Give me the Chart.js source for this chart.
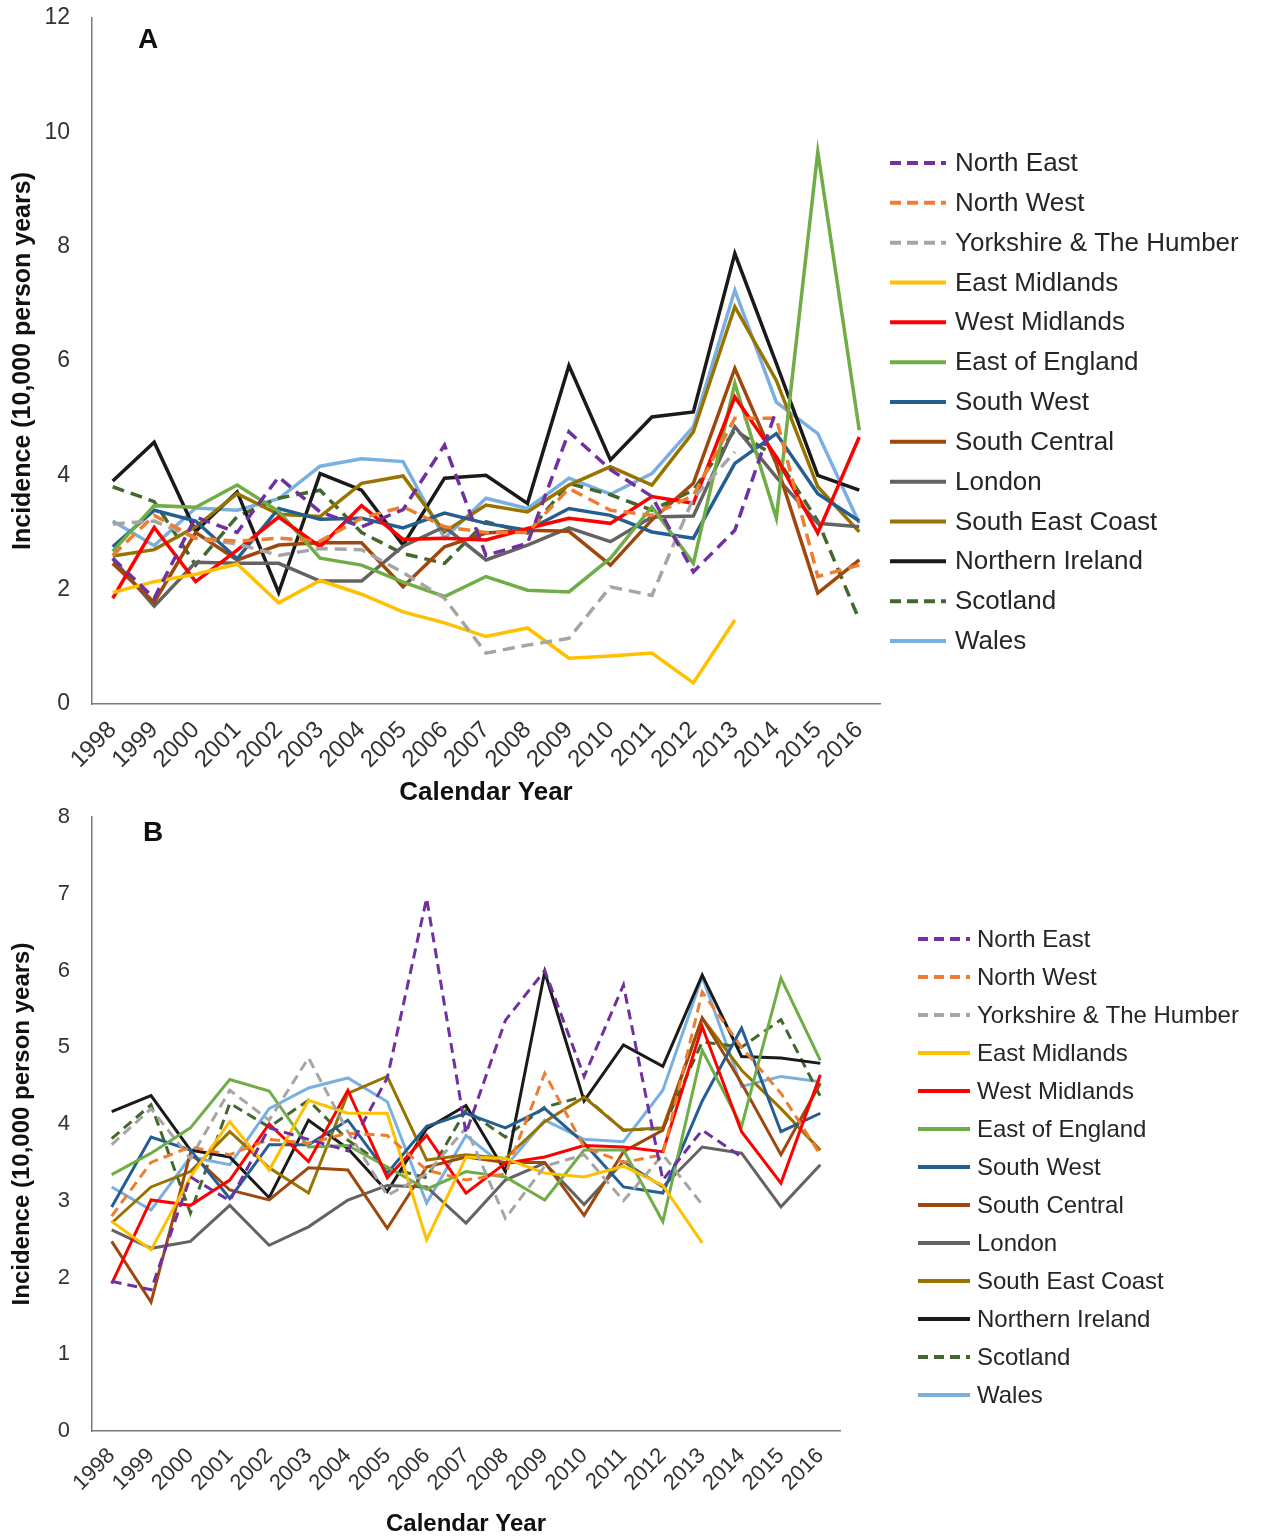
<!DOCTYPE html>
<html>
<head>
<meta charset="utf-8">
<title>Incidence by region, 1998–2016</title>
<script src="https://cdn.jsdelivr.net/npm/chart.js@4.4.1/dist/chart.umd.min.js"></script>
<style>
  html, body { margin: 0; padding: 0; background: #ffffff; }
  .panel { position: absolute; left: 0; }
  #panelA { top: 0; width: 1262px; height: 805px; }
  #panelB { top: 800px; width: 1262px; height: 737px; }
</style>
</head>
<body>
<div class="panel" id="panelA"><canvas id="chartA" width="1262" height="805"></canvas></div>
<div class="panel" id="panelB"><canvas id="chartB" width="1262" height="737"></canvas></div>
<script>
// Calendar years on the x axis
const years = ['1998','1999','2000','2001','2002','2003','2004','2005','2006','2007',
               '2008','2009','2010','2011','2012','2013','2014','2015','2016'];

const regions = ['North East','North West','Yorkshire & The Humber','East Midlands','West Midlands',
                 'East of England','South West','South Central','London','South East Coast',
                 'Northern Ireland','Scotland','Wales'];

// Panel A: incidence per 10,000 person years
const northEastA      = [2.55,1.85,3.27,3.00,3.97,3.36,3.10,3.40,4.53,2.60,2.81,4.76,4.10,3.63,2.31,3.04,5.14,null,null];
const northWestA      = [2.60,3.30,2.90,2.85,2.90,2.85,3.25,3.45,3.10,3.00,3.00,3.77,3.39,3.30,3.65,5.00,5.00,2.23,2.43];
const yorkshireA      = [3.15,3.20,2.90,2.80,2.60,2.72,2.70,2.30,1.85,0.89,1.03,1.15,2.05,1.90,3.60,4.41,null,null,null];
const eastMidlandsA   = [1.95,2.14,2.27,2.45,1.77,2.16,1.92,1.61,1.42,1.18,1.33,0.80,0.84,0.89,0.37,1.47,null,null,null];
const westMidlandsA   = [1.85,3.09,2.14,2.69,3.27,2.75,3.47,2.88,2.90,2.87,3.07,3.25,3.16,3.63,3.51,5.37,4.32,2.99,4.67];
const eastEnglandA    = [2.67,3.47,3.44,3.83,3.37,2.55,2.43,2.13,1.88,2.23,1.99,1.96,2.55,3.45,2.46,5.61,3.25,9.66,4.79];
const southWestA      = [2.75,3.39,3.20,2.54,3.42,3.23,3.25,3.08,3.34,3.16,3.04,3.42,3.30,3.01,2.90,4.21,4.73,3.68,3.20];
const southCentralA   = [2.46,1.78,3.00,2.52,2.78,2.82,2.82,2.05,2.75,2.99,3.04,3.02,2.43,3.22,3.86,5.87,4.20,1.94,2.52];
const londonA         = [2.54,1.71,2.48,2.46,2.46,2.15,2.15,2.76,3.10,2.52,2.78,3.08,2.84,3.27,3.29,4.85,3.97,3.16,3.10];
const southEastCoastA = [2.59,2.70,3.10,3.68,3.32,3.28,3.86,3.99,3.01,3.48,3.36,3.83,4.15,3.83,4.76,6.95,5.66,3.80,3.01];
const northIrelandA   = [3.90,4.58,3.02,3.71,1.95,4.03,3.74,2.78,3.95,4.00,3.51,5.92,4.27,5.02,5.11,7.88,5.96,4.00,3.74];
const scotlandA       = [3.80,3.54,2.43,3.28,3.60,3.74,3.00,2.63,2.46,3.19,2.99,3.86,3.66,3.39,3.74,4.79,4.32,3.20,1.47];
const walesA          = [3.20,2.77,3.43,3.39,3.59,4.16,4.29,4.24,2.90,3.60,3.42,3.95,3.67,4.03,4.85,7.24,5.28,4.73,3.16];

// Panel B: incidence per 10,000 person years
const northEastB      = [1.95,1.84,3.31,3.00,3.95,3.80,3.65,4.60,6.94,3.88,5.35,6.00,4.62,5.81,3.27,3.92,3.57,null,null];
const northWestB      = [2.80,3.50,3.70,3.60,3.80,3.75,3.88,3.85,3.40,3.27,3.35,4.66,3.70,3.50,3.60,5.72,5.00,4.40,3.60];
const yorkshireB      = [3.73,4.20,3.55,4.44,4.05,4.86,3.90,3.07,3.35,3.95,2.77,3.45,3.60,3.00,3.60,2.95,null,null,null];
const eastMidlandsB   = [2.73,2.36,3.31,4.03,3.40,4.31,4.14,4.14,2.49,3.57,3.55,3.36,3.31,3.45,3.20,2.45,null,null,null];
const westMidlandsB   = [1.92,3.01,2.94,3.27,4.00,3.51,4.44,3.30,3.85,3.10,3.49,3.57,3.72,3.70,3.64,5.27,3.90,3.23,4.64];
const eastEnglandB    = [3.34,3.62,3.95,4.58,4.43,3.70,3.72,3.44,3.15,3.38,3.31,3.01,3.66,3.66,2.73,4.96,3.97,5.90,4.83];
const southWestB      = [2.92,3.83,3.66,3.03,3.73,3.73,4.05,3.36,3.97,4.14,3.95,4.20,3.75,3.18,3.10,4.30,5.25,3.90,4.14];
const southCentralB   = [2.47,1.68,3.62,3.14,3.01,3.43,3.40,2.64,3.44,3.57,3.50,3.50,2.81,3.64,3.92,5.38,4.53,3.60,4.53];
const londonB         = [2.62,2.38,2.47,2.94,2.42,2.66,3.01,3.20,3.18,2.71,3.27,3.49,2.95,3.51,3.18,3.70,3.62,2.92,3.47];
const southEastCoastB = [2.71,3.18,3.38,3.90,3.43,3.10,4.40,4.62,3.53,3.60,3.55,4.03,4.35,3.92,3.95,5.38,4.70,4.20,3.66];
const northIrelandB   = [4.16,4.37,3.66,3.57,3.04,4.05,3.68,3.12,3.94,4.24,3.38,5.98,4.30,5.03,4.75,5.94,4.88,4.86,4.79];
const scotlandB       = [3.81,4.25,2.84,4.27,3.96,4.31,3.79,3.43,3.30,4.18,3.83,4.22,4.36,3.92,3.94,5.07,5.00,5.36,4.36];
const walesB          = [3.18,2.88,3.57,3.47,4.20,4.47,4.60,4.29,2.97,3.85,3.44,4.05,3.80,3.77,4.44,5.92,4.49,4.62,4.55];

const yTicksA = [0, 2, 4, 6, 8, 10, 12];
const yTicksB = [0, 1, 2, 3, 4, 5, 6, 7, 8];

// Line colour and dash flag for each region, in legend order
const regionColors = ['#7030A0','#ED7D31','#A5A5A5','#FFC000','#FF0000','#70AD47','#255E91',
                      '#9E480E','#636363','#997300','#1A1A1A','#43682B','#7AB0E0'];
const regionDashed = [true, true, true, false, false, false, false, false, false, false, false, true, false];

const seriesA = [northEastA, northWestA, yorkshireA, eastMidlandsA, westMidlandsA, eastEnglandA,
                 southWestA, southCentralA, londonA, southEastCoastA, northIrelandA, scotlandA, walesA];
const seriesB = [northEastB, northWestB, yorkshireB, eastMidlandsB, westMidlandsB, eastEnglandB,
                 southWestB, southCentralB, londonB, southEastCoastB, northIrelandB, scotlandB, walesB];

const FONT = "'Liberation Sans', Arial, Helvetica, sans-serif";
Chart.defaults.font.family = FONT;

// Draws the legend lines/labels at a fixed place and the panel letter
const sideLegend = {
  id: 'sideLegend',
  afterDraw(chart, args, o) {
    const ctx = chart.ctx;
    ctx.save();
    chart.data.datasets.forEach((ds, i) => {
      const y = o.top + i * o.step;
      ctx.strokeStyle = ds.borderColor;
      ctx.lineWidth = o.lineWidth;
      ctx.lineCap = 'butt';
      ctx.setLineDash(ds.borderDash && ds.borderDash.length ? o.dash : []);
      ctx.beginPath();
      ctx.moveTo(o.x0, y);
      ctx.lineTo(o.x1, y);
      ctx.stroke();
      ctx.setLineDash([]);
      ctx.fillStyle = '#262626';
      ctx.font = o.fontSize + 'px ' + FONT;
      ctx.textAlign = 'left';
      ctx.textBaseline = 'middle';
      ctx.fillText(ds.label, o.textX, y + 1);
    });
    ctx.fillStyle = '#111111';
    ctx.font = 'bold ' + o.letterSize + 'px ' + FONT;
    ctx.textAlign = 'center';
    ctx.textBaseline = 'middle';
    ctx.fillText(o.letter, o.letterX, o.letterY);
    ctx.restore();
  }
};

function makeDatasets(series, width, dash) {
  return series.map((values, i) => ({
    label: regions[i],
    data: values,
    borderColor: regionColors[i],
    backgroundColor: regionColors[i],
    borderWidth: width,
    borderDash: regionDashed[i] ? dash : [],
    pointRadius: 0,
    tension: 0,
    fill: false
  }));
}

function makeChart(id, series, cfg) {
  return new Chart(document.getElementById(id), {
    type: 'line',
    data: { labels: years, datasets: makeDatasets(series, cfg.lineWidth, cfg.dash) },
    options: {
      responsive: false,
      animation: false,
      events: [],
      layout: { padding: { left: 0, right: cfg.padRight, top: cfg.padTop, bottom: 0 } },
      plugins: {
        legend: { display: false },
        tooltip: { enabled: false },
        sideLegend: cfg.legend
      },
      scales: {
        x: {
          type: 'category',
          offset: true,
          grid: { display: false, drawTicks: false },
          border: { display: true, color: '#7a7a7a', width: 1.5 },
          ticks: {
            autoSkip: false, minRotation: 45, maxRotation: 45,
            padding: cfg.xTickPad,
            color: '#333333',
            font: { size: cfg.xTickSize }
          },
          title: {
            display: true, text: 'Calendar Year', color: '#111111',
            font: { size: cfg.xTitleSize, weight: 'bold' },
            padding: { top: 0, bottom: cfg.xTitlePad }
          },
          afterFit(s) { s.height = cfg.xHeight; }
        },
        y: {
          min: 0, max: cfg.yMax,
          grid: { display: false, drawTicks: false },
          border: { display: true, color: '#7a7a7a', width: 1.5 },
          afterBuildTicks(s) { s.ticks = cfg.yTicks.map(v => ({ value: v })); },
          ticks: {
            padding: cfg.yTickPad,
            color: '#333333',
            font: { size: cfg.yTickSize }
          },
          title: {
            display: true, text: 'Incidence (10,000 person years)', color: '#111111',
            font: { size: cfg.yTitleSize, weight: 'bold' },
            padding: { top: cfg.yTitlePad, bottom: 0 }
          },
          afterFit(s) { s.width = 92; s.paddingTop = 0; s.paddingBottom = 0; }
        }
      }
    },
    plugins: [sideLegend]
  });
}

makeChart('chartA', seriesA, {
  lineWidth: 3.5, dash: [12, 7], padRight: 382, padTop: 18, xHeight: 101, yMax: 12, yTicks: yTicksA,
  xTickPad: 12, xTickSize: 24, yTickPad: 22, yTickSize: 23,
  xTitleSize: 26, xTitlePad: -3, yTitleSize: 25, yTitlePad: 8,
  legend: { x0: 890, x1: 946, textX: 955, top: 163, step: 39.83, lineWidth: 4, dash: [11, 6],
            fontSize: 26, letter: 'A', letterX: 148, letterY: 40, letterSize: 28 }
});

makeChart('chartB', seriesB, {
  lineWidth: 3, dash: [10, 6], padRight: 422, padTop: 17, xHeight: 106, yMax: 8, yTicks: yTicksB,
  xTickPad: 12, xTickSize: 22, yTickPad: 22, yTickSize: 22,
  xTitleSize: 24, xTitlePad: -2, yTitleSize: 24, yTitlePad: 8,
  legend: { x0: 918, x1: 970, textX: 977, top: 139, step: 38.0, lineWidth: 4, dash: [10, 6],
            fontSize: 24, letter: 'B', letterX: 153, letterY: 33, letterSize: 28 }
});
</script>
</body>
</html>
